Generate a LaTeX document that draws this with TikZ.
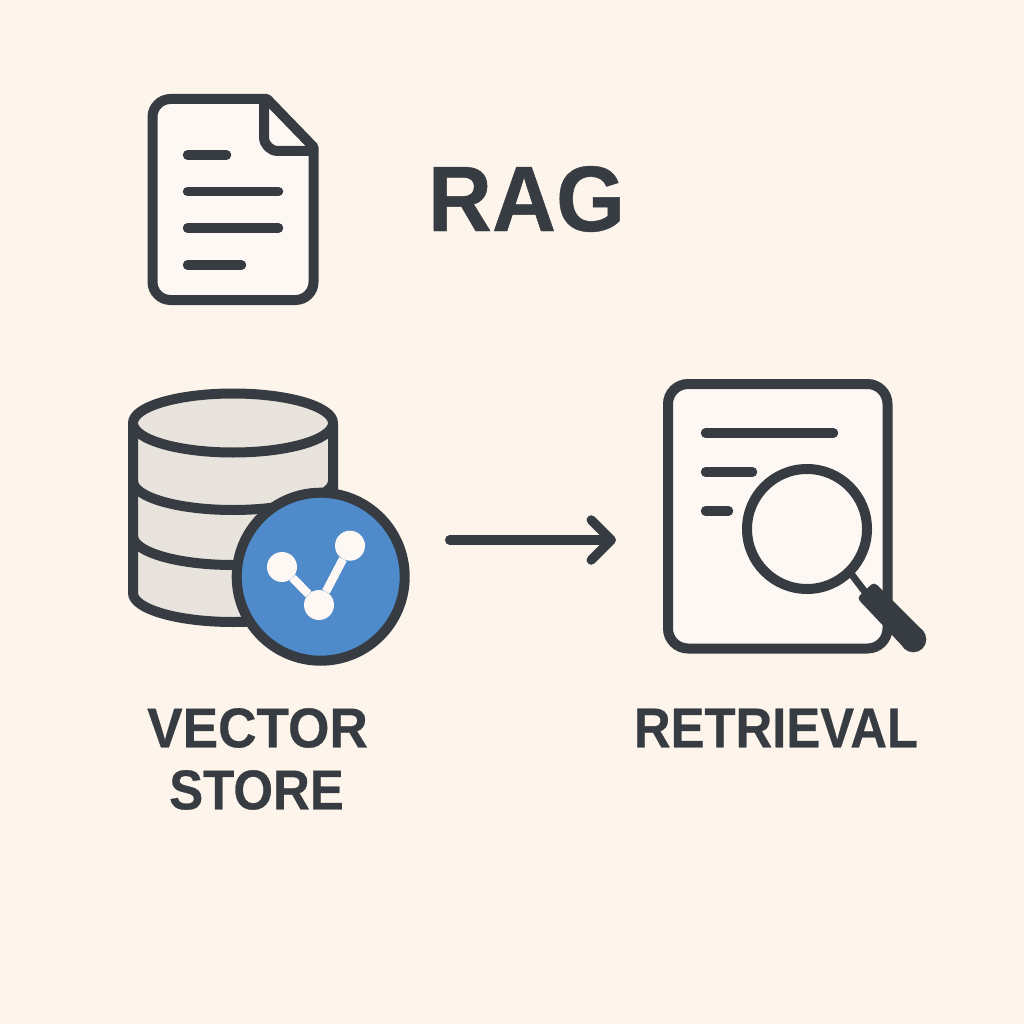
\documentclass[tikz,border=0pt]{standalone}
\usepackage{fontspec}
\setmainfont{Liberation Sans}[BoldFeatures={FakeBold=0.5}]
\usetikzlibrary{arrows.meta}
\definecolor{bgc}{HTML}{FDF5EC}
\definecolor{ink}{HTML}{373C42}
\definecolor{paper}{HTML}{FDF8F3}
\definecolor{drum}{HTML}{E8E3DC}
\definecolor{blu}{HTML}{4F8BCB}
\tikzset{
  icon/.style={draw=ink,line width=10pt,line join=round},
  txtline/.style={draw=ink,line width=9.5pt,line cap=round},
  netnode/.style={circle,fill=paper,minimum size=30pt,inner sep=0pt},
  netedge/.style={draw=paper,line width=8.5pt},
  label/.style={text=ink,inner sep=0pt,anchor=center},
  flow/.style={draw=ink,line width=9.5pt,line cap=round,line join=round,-{Straight Barb[length=20pt,width=40pt,round]}},
}
\begin{document}
\begin{tikzpicture}[x=1pt,y=-1pt]
\useasboundingbox (0,0) rectangle (1024,1024);
\fill[bgc] (0,0) rectangle (1024,1024);
% source document
\draw[icon,fill=paper] (152.5,117) arc[start angle=180,end angle=270,radius=18] -- (267,99) -- (313.5,147) -- (313.5,282)
  arc[start angle=0,end angle=90,radius=18] -- (170.5,300) arc[start angle=90,end angle=180,radius=18] -- cycle;
\draw[icon] (264,99) -- (264,137) arc[start angle=180,end angle=90,radius=14] -- (313.5,151);
\draw[txtline] (187.5,155) -- (226.5,155);
\draw[txtline] (187.5,191.5) -- (278.5,191.5);
\draw[txtline] (187.5,228) -- (278.5,228);
\draw[txtline] (187.5,265) -- (241.5,265);
\node[label,font=\bfseries\fontsize{93}{93}\selectfont,xscale=.955] (rag) at (526.5,199) {RAG};
% cylinder
\draw[icon,fill=drum] (133,423) -- (133,593) arc[x radius=100,y radius=29,start angle=180,end angle=0] -- (333,423) -- cycle;
\draw[icon,fill=drum] (233,423) ellipse[x radius=100,y radius=29.5];
\draw[icon] (133,481) arc[x radius=100,y radius=29,start angle=180,end angle=0];
\draw[icon] (133,536) arc[x radius=100,y radius=29,start angle=180,end angle=0];
% badge
\node[circle,draw=ink,line width=10pt,fill=blu,minimum size=168pt,inner sep=0pt] (badge) at (320.7,576.7) {};
\node[netnode] (n1) at (282,567) {};
\node[netnode] (n2) at (350,545.7) {};
\node[netnode] (n3) at (319,605) {};
\draw[netedge] (n1) -- (n3);
\draw[netedge] (n2) -- (n3);
% retrieval document
\node[draw=ink,line width=10pt,fill=paper,rounded corners=20pt,minimum width=219.5pt,minimum height=264.5pt,inner sep=0pt] (retr) at (777.75,516.25) {};
\draw[txtline] (705.5,433) -- (833.5,433);
\draw[txtline] (705.5,472) -- (752.5,472);
\draw[txtline] (705.5,511) -- (728.5,511);
\node[circle,draw=ink,line width=10pt,fill=paper,minimum size=120pt,inner sep=0pt] (lens) at (807,529) {};
\coordinate (grip) at (868,596);
\coordinate (gripend) at (913.3,639.3);
\draw[ink,line width=7pt] (lens) ++(42.4,42.4) -- (grip);
\fill[ink,rounded corners=4pt] (857,598) -- (874,582) -- (926,634) -- (908,652) -- cycle;
\fill[ink] (gripend) circle[radius=13];
% arrow
\coordinate (afrom) at (badge.east |- 0,540);
\coordinate (ato) at (retr.west |- 0,540);
\draw[flow,shorten <=40pt,shorten >=47pt] (afrom) -- (ato);
% labels
\node[label,font=\bfseries\fontsize{56}{56}\selectfont,xscale=.95] (vec) at (257.5,728) {VECTOR};
\node[label,font=\bfseries\fontsize{56}{56}\selectfont,xscale=.91] (sto) at (256.5,790) {STORE};
\node[label,font=\bfseries\fontsize{56}{56}\selectfont,xscale=.907] (ret) at (776,728) {RETRIEVAL};
\end{tikzpicture}
\end{document}
